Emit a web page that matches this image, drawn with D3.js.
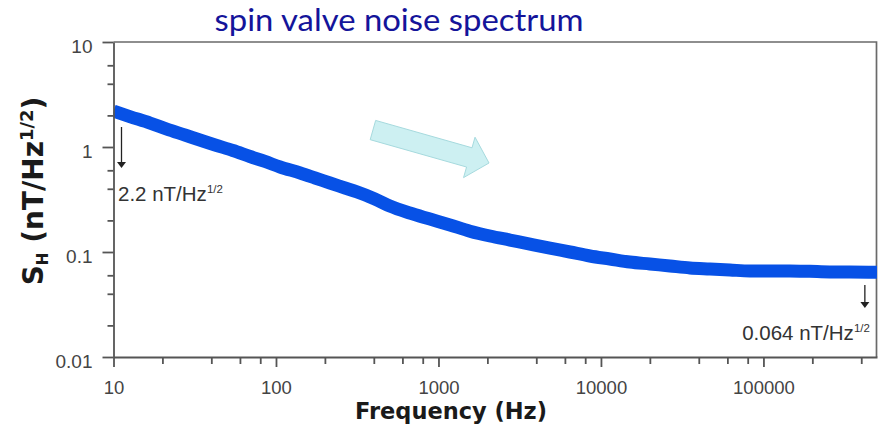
<!DOCTYPE html>
<html><head><meta charset="utf-8">
<script src="https://cdn.jsdelivr.net/npm/d3@7"></script>
<style>body{margin:0;background:#fff} svg{display:block}</style>
</head><body>
<svg id="c" width="878" height="435"></svg>
<script>
// ---- data ----
const freqs = [10, 12.6, 16.8, 21.3, 27.5, 34, 42.2, 54.3, 69.2, 85.5, 106, 141, 174, 215, 266, 315, 406, 502, 666, 887,
  1177, 1563, 2075, 2754, 3656, 4853, 6442, 8551, 11350, 15065, 20000, 26600, 35300, 46900, 62200, 82600,
  109600, 145500, 193000, 256000, 340000, 500000];
const noise = [2.20, 1.95, 1.69, 1.48, 1.30, 1.166, 1.045, 0.926, 0.812, 0.728, 0.645, 0.565, 0.507, 0.454, 0.407, 0.373, 0.320, 0.274, 0.235, 0.206,
  0.181, 0.158, 0.142, 0.130, 0.119, 0.109, 0.100, 0.0916, 0.0858, 0.0803, 0.0769, 0.0736, 0.0705, 0.0689, 0.0674, 0.0660,
  0.0660, 0.0660, 0.0654, 0.0646, 0.0646, 0.0640];
const yMajorTicks = [0.01, 0.1, 1, 10];
const yMinorTicks = [0.02, 0.04, 0.06, 0.2, 0.4, 0.6, 2, 4, 6];
const xMajorTicks = [10, 100, 1000, 10000, 100000];
const xMinorTicks = [20, 40, 60, 80, 200, 400, 600, 800, 2000, 4000, 6000, 8000, 20000, 40000, 60000, 80000, 200000, 400000];
const titleText = "spin valve noise spectrum";
const xTitle = "Frequency (Hz)";
// annotation anchors in data space
const annoArrows = [ {f: 11.2, from: 1.55, to: 0.63}, {f: 421000, from: 0.0484, to: 0.0293} ];
const annoLabels = [ {f: 10.66, v: 0.306, main: "2.2 nT/Hz", sup: "1/2", anchor: "start"},
                     {f: 452000, v: 0.01454, main: "0.064 nT/Hz", sup: "1/2", anchor: "end"} ];
const trendArrow = {f0: 395, v0: 1.45, f1: 2047, v1: 0.704};

// ---- layout ----
const svg = d3.select("#c");
const L = 113.5, R = 877, T = 42, B = 357;
const x = d3.scaleLog().domain([10, 500000]).range([L, R]);
const y = d3.scaleLog().domain([0.01, 10]).range([B, T]);
const axisColor = "#555";
const labelFont = "'Liberation Sans', Arial, Helvetica, sans-serif";

// title
svg.append("text").attr("x", 399).attr("y", 31).attr("text-anchor", "middle")
  .attr("font-family", "Lato, 'Open Sans', sans-serif").attr("font-size", 30)
  .attr("fill", "#14149a").text(titleText)
  .each(function(){ const w = this.getComputedTextLength(); if (w>0) d3.select(this).attr("textLength", 369).attr("lengthAdjust","spacingAndGlyphs"); });

// frame top/right
svg.append("path").attr("d", `M${L},${T}H${R-0.5}V${B}`).attr("fill", "none")
  .attr("stroke", "#6a6a6a").attr("stroke-width", 1.7);

// clip
svg.append("clipPath").attr("id", "clip").append("rect")
  .attr("x", L).attr("y", T).attr("width", R - L).attr("height", B - T);

// data band
svg.append("path").datum(noise).attr("clip-path", "url(#clip)")
  .attr("d", d3.line().x((d, i) => x(freqs[i])).y(d => y(d)).curve(d3.curveMonotoneX))
  .attr("fill", "none").attr("stroke", "#0751e6").attr("stroke-width", 13)
  .attr("stroke-linejoin", "round");

// trend arrow (light cyan block arrow)
{
  const P0 = [x(trendArrow.f0), y(trendArrow.v0)], P1 = [x(trendArrow.f1), y(trendArrow.v1)];
  const dx = P1[0] - P0[0], dy = P1[1] - P0[1], len = Math.hypot(dx, dy);
  const u = [dx / len, dy / len], n = [-u[1], u[0]];
  const hw = 10, hh = 21, hl = 20.5;
  const H = [P1[0] - u[0] * hl, P1[1] - u[1] * hl];
  const pt = (p, k) => [p[0] + n[0] * k, p[1] + n[1] * k];
  const pts = [pt(P0, -hw), pt(H, -hw), pt(H, -hh), P1, pt(H, hh), pt(H, hw), pt(P0, hw)];
  svg.append("path").attr("d", "M" + pts.map(p => p.join(",")).join("L") + "Z")
    .attr("fill", "#cdf0f2").attr("stroke", "#a6dade").attr("stroke-width", 1);
}

// y axis
const yAxis = d3.axisLeft(y).tickValues(yMajorTicks).tickSize(11).tickPadding(10).tickSizeOuter(0)
  .tickFormat(d => d >= 1 ? d3.format("d")(d) : String(d));
const gy = svg.append("g").attr("transform", `translate(${L},0)`).call(yAxis);
gy.selectAll("text").attr("font-family", labelFont).attr("font-size", 19).attr("fill", "#444").attr("dy", "0.55em");
svg.append("g").attr("transform", `translate(${L},0)`)
  .call(d3.axisLeft(y).tickValues(yMinorTicks).tickSize(6).tickFormat("").tickSizeOuter(0))
  .call(g => g.select(".domain").remove());

// x axis
const xAxis = d3.axisBottom(x).tickValues(xMajorTicks).tickSize(10).tickPadding(14).tickSizeOuter(0)
  .tickFormat(d3.format("d"));
const gx = svg.append("g").attr("transform", `translate(0,${B})`).call(xAxis);
gx.selectAll("text").attr("font-family", labelFont).attr("font-size", 18.5).attr("fill", "#444");
svg.append("g").attr("transform", `translate(0,${B})`)
  .call(d3.axisBottom(x).tickValues(xMinorTicks).tickSize(7).tickFormat("").tickSizeOuter(0))
  .call(g => g.select(".domain").remove());

svg.selectAll(".domain, .tick line").attr("stroke", axisColor).attr("stroke-width", 1.8);

// axis titles
svg.append("text").attr("x", 451).attr("y", 419).attr("text-anchor", "middle")
  .attr("font-family", "'DejaVu Sans', Verdana, sans-serif").attr("font-weight", "bold")
  .attr("font-size", 22.5).attr("fill", "#1a1a1a").text(xTitle);

const yt = svg.append("text").attr("transform", "translate(43,191) rotate(-90)").attr("text-anchor", "middle")
  .attr("font-family", "'DejaVu Sans', Verdana, sans-serif").attr("font-weight", "bold")
  .attr("font-size", 28).attr("fill", "#1a1a1a");
yt.append("tspan").text("S");
yt.append("tspan").attr("font-size", 15).attr("dy", 5).text("H");
yt.append("tspan").attr("dy", -5).text(" (nT/Hz");
yt.append("tspan").attr("font-size", 18).attr("dy", -10).text("1/2");
yt.append("tspan").attr("dy", 10).text(")");

// annotations
annoArrows.forEach(a => {
  const ax = x(a.f), y0 = y(a.from), y1 = y(a.to);
  svg.append("line").attr("x1", ax).attr("x2", ax).attr("y1", y0).attr("y2", y1 - 5)
    .attr("stroke", "#222").attr("stroke-width", 1.3);
  svg.append("path").attr("d", `M${ax - 4.5},${y1 - 6}L${ax + 4.5},${y1 - 6}L${ax},${y1}Z`).attr("fill", "#222");
});
annoLabels.forEach(a => {
  const t = svg.append("text").attr("x", x(a.f)).attr("y", y(a.v)).attr("text-anchor", a.anchor)
    .attr("font-family", labelFont).attr("font-size", 20.5).attr("fill", "#333");
  t.append("tspan").text(a.main);
  t.append("tspan").attr("font-size", 11.5).attr("dy", -8).text(a.sup);
});
</script>
</body></html>
